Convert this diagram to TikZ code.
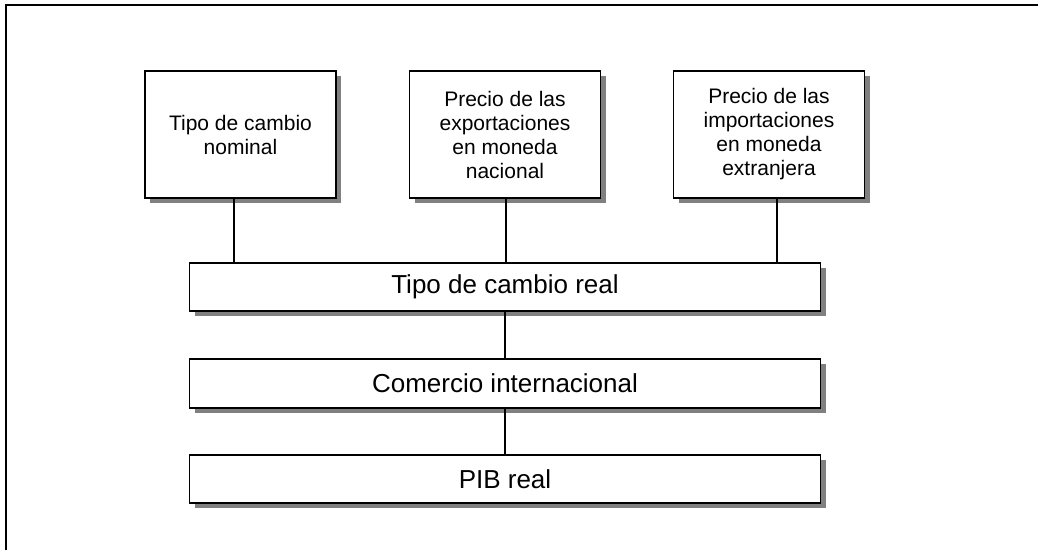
\documentclass[tikz,border=0pt]{standalone}
\usepackage{fontspec}
\setmainfont{Liberation Sans}
\usetikzlibrary{shadows}
\newcommand\topy{134.5}
\newcommand\midx{505}

\tikzset{
  box/.style={draw,line width=1.5pt,fill=white,inner sep=0pt,align=center,
    drop shadow={shadow xshift=5pt,shadow yshift=-5pt,fill=black!50,opacity=1}},
  topbox/.style={box,minimum width=191pt,minimum height=127pt,
    font=\fontsize{21}{24}\selectfont},
  widebox/.style={box,minimum width=631pt,minimum height=48pt,
    font=\fontsize{26}{30}\selectfont},
  link/.style={line width=1.5pt}
}

\begin{document}
\begin{tikzpicture}[x=1pt,y=-1pt]
    \useasboundingbox (0,0) rectangle (1038,550);
    % frame, only top and left side show
    \draw[line width=2pt] (6,550) coordinate (fbl) -- (6,5) coordinate (ftl) -- (1040,5) coordinate (ftr);

    \node[topbox] (nominal) at (240.5,\topy) {Tipo de cambio\\nominal};
    \node[topbox] (exports) at (505,\topy) {Precio de las\\exportaciones\\en moneda\\nacional};
    \node[topbox] (imports) at (769,\topy) {Precio de las\\importaciones\\en moneda\\extranjera};

    \node[widebox] (real) at (\midx,287) {Tipo de cambio real};
    \node[widebox,minimum height=49pt] (trade) at (\midx,383.5) {Comercio internacional};
    \node[widebox] (gdp) at (\midx,479) {PIB real};

    \draw[link] ([xshift=-6.5pt]nominal.south) -- ([xshift=-6.5pt]nominal.south |- real.north);
    \draw[link] ([xshift=1pt]exports.south) -- ([xshift=1pt]exports.south |- real.north);
    \draw[link] ([xshift=8pt]imports.south) -- ([xshift=8pt]imports.south |- real.north);

    \draw[link] (real.south -| trade.north) -- (trade.north);
    \draw[link] (trade.south) -- (gdp.north);
  \end{tikzpicture}
\end{document}
